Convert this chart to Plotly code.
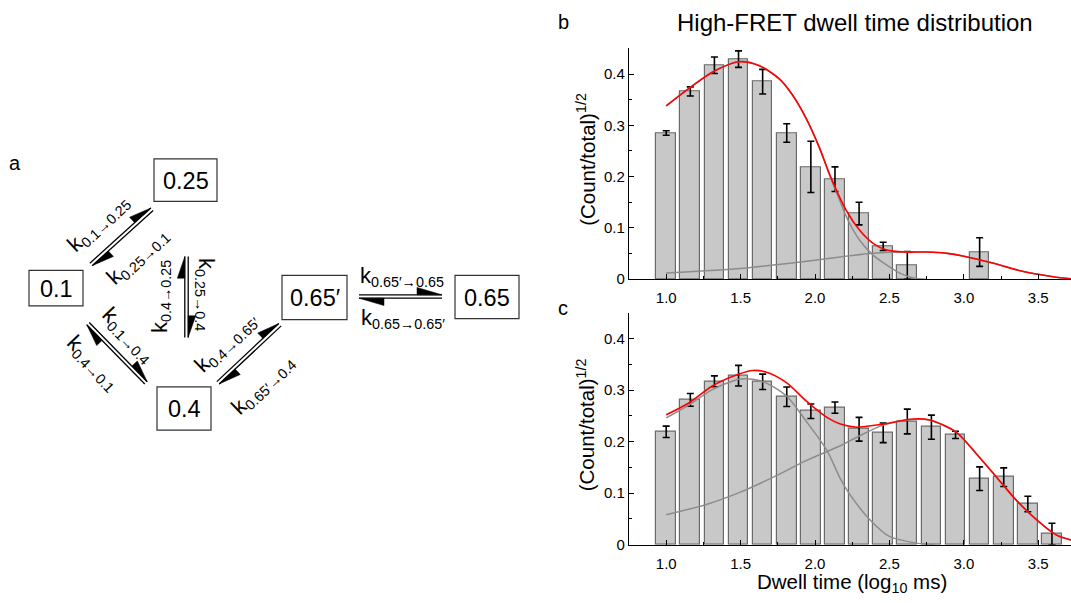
import math
import plotly.graph_objects as go

W, H = 1071, 603

# ---------------- data ----------------
bin_centers = [1.000, 1.162, 1.324, 1.486, 1.648, 1.810, 1.972, 2.134, 2.296,
               2.458, 2.620, 2.782, 2.944, 3.106, 3.268, 3.430, 3.592]

b_values = [0.285, 0.366, 0.417, 0.429, 0.385, 0.285, 0.219, 0.195, 0.128,
            0.064, 0.027, None, None, 0.053]
b_errors = [0.0045, 0.009, 0.016, 0.016, 0.024, 0.018, 0.050, 0.024, 0.022,
            0.008, 0.027, None, None, 0.028]

c_values = [0.219, 0.281, 0.317, 0.328, 0.316, 0.287, 0.259, 0.266, 0.224,
            0.217, 0.239, 0.228, 0.213, 0.128, 0.131, 0.079, 0.0205]
c_errors = [0.011, 0.0125, 0.0105, 0.020, 0.015, 0.019, 0.014, 0.011, 0.023,
            0.019, 0.024, 0.0235, 0.007, 0.023, 0.018, 0.015, 0.021]

# fitted curves
b_fit_x = [1.0, 1.162, 1.324, 1.49, 1.627, 1.762, 1.851, 1.941, 2.03, 2.10,
           2.21, 2.30, 2.39, 2.48, 2.61, 2.75, 2.9, 3.0, 3.2, 3.4, 3.6, 3.72]
b_fit_y = [0.338, 0.374, 0.406, 0.424, 0.416, 0.390, 0.358, 0.313, 0.256, 0.203,
           0.134, 0.0955, 0.070, 0.057, 0.053, 0.053, 0.050, 0.045, 0.031, 0.015,
           0.005, 0.001]
b_comp1_x = [1.0, 1.162, 1.324, 1.49, 1.627, 1.762, 1.851, 1.941, 2.03, 2.10,
             2.16, 2.22, 2.30, 2.39, 2.48, 2.57, 2.66, 2.75]
b_comp1_y = [0.338, 0.374, 0.406, 0.424, 0.416, 0.390, 0.358, 0.313, 0.256, 0.201,
             0.158, 0.116, 0.076, 0.047, 0.028, 0.012, 0.0025, 0.0]
b_comp2_x = [1.0, 1.5, 1.63, 2.0, 2.37, 2.6, 2.75, 2.9, 3.0, 3.2, 3.4, 3.6, 3.72]
b_comp2_y = [0.012, 0.021, 0.025, 0.037, 0.050, 0.053, 0.053, 0.050, 0.045, 0.031,
             0.015, 0.005, 0.001]

c_fit_x = [1.0, 1.157, 1.31, 1.49, 1.58, 1.67, 1.81, 1.94, 2.08, 2.17, 2.278,
           2.457, 2.658, 2.77, 2.95, 3.085, 3.22, 3.35, 3.49, 3.62, 3.72]
c_fit_y = [0.252, 0.276, 0.308, 0.331, 0.338, 0.335, 0.314, 0.279, 0.247, 0.234,
           0.228, 0.234, 0.244, 0.242, 0.218, 0.176, 0.131, 0.087, 0.048, 0.019,
           0.009]
c_comp1_x = [1.0, 1.157, 1.31, 1.49, 1.58, 1.67, 1.81, 1.94, 2.08, 2.17, 2.23,
             2.37, 2.50, 2.68, 2.8]
c_comp1_y = [0.246, 0.272, 0.301, 0.321, 0.321, 0.314, 0.288, 0.240, 0.183, 0.128,
             0.099, 0.048, 0.016, 0.003, 0.0]
c_comp2_x = [1.0, 1.27, 1.49, 1.72, 1.94, 2.17, 2.278, 2.457, 2.658, 2.77, 2.95,
             3.085, 3.22, 3.35, 3.49, 3.62, 3.72]
c_comp2_y = [0.058, 0.078, 0.101, 0.131, 0.163, 0.192, 0.208, 0.232, 0.243, 0.242,
             0.218, 0.176, 0.131, 0.087, 0.048, 0.019, 0.009]

x_ticks = [1.0, 1.5, 2.0, 2.5, 3.0, 3.5]
x_tick_text = ["1.0", "1.5", "2.0", "2.5", "3.0", "3.5"]
y_ticks = [0, 0.1, 0.2, 0.3, 0.4]
y_tick_text = ["0", "0.1", "0.2", "0.3", "0.4"]

# ---------------- style ----------------
FONT = "Arial, 'Liberation Sans', sans-serif"
BAR_FILL = "#c8c8c8"
BAR_LINE = "#6a6a6a"
GRAY = "#8c8c8c"
RED = "#ff0000"

fig = go.Figure()


def add_panel(vals, errs, fx, fy, c1x, c1y, c2x, c2y, xa, ya):
    xs = bin_centers[:len(vals)]
    fig.add_trace(go.Bar(
        x=xs, y=vals, width=0.132, xaxis=xa, yaxis=ya,
        marker=dict(color=BAR_FILL, line=dict(color=BAR_LINE, width=1.2)),
        error_y=dict(type="data", array=errs, visible=True, color="black",
                     thickness=1.6, width=3.5),
        showlegend=False, hoverinfo="skip"))
    for cx, cy in ((c1x, c1y), (c2x, c2y)):
        fig.add_trace(go.Scatter(x=cx, y=cy, mode="lines", xaxis=xa, yaxis=ya,
                                 line=dict(color=GRAY, width=1.5, shape="spline",
                                           smoothing=0.8),
                                 showlegend=False, hoverinfo="skip"))
    fig.add_trace(go.Scatter(x=fx, y=fy, mode="lines", xaxis=xa, yaxis=ya,
                             line=dict(color=RED, width=1.6, shape="spline",
                                       smoothing=0.8),
                             showlegend=False, hoverinfo="skip"))


add_panel(b_values, b_errors, b_fit_x, b_fit_y, b_comp1_x, b_comp1_y,
          b_comp2_x, b_comp2_y, "x", "y")
add_panel(c_values, c_errors, c_fit_x, c_fit_y, c_comp1_x, c_comp1_y,
          c_comp2_x, c_comp2_y, "x2", "y2")


def X(px):
    return px / W


def Y(py):
    return 1 - py / H


x_dom = [X(629), 1.0]
b_dom = [Y(283), Y(49)]
c_dom = [Y(552), Y(317)]

xaxis_style = dict(range=[0.75, 3.72], showline=True, linecolor="black",
                   linewidth=1.2, ticks="inside", ticklen=5, tickwidth=1.2,
                   tickcolor="black", tickvals=x_ticks, ticktext=x_tick_text,
                   ticklabelstandoff=5,
                   minor=dict(tickvals=[0.75, 1.25, 1.75, 2.25, 2.75, 3.25],
                              ticks="inside", ticklen=3, tickcolor="black"),
                   showgrid=False, zeroline=False, mirror=False,
                   tickfont=dict(family=FONT, size=15, color="black"))
yaxis_style = dict(range=[0, 0.45], showline=True, linecolor="black",
                   linewidth=1.2, ticks="inside", ticklen=5, tickwidth=1.2,
                   tickcolor="black", tickvals=y_ticks, ticktext=y_tick_text,
                   minor=dict(tickvals=[0.05, 0.15, 0.25, 0.35],
                              ticks="inside", ticklen=3, tickcolor="black"),
                   showgrid=False, zeroline=False,
                   tickfont=dict(family=FONT, size=15, color="black"))

fig.update_layout(
    width=W, height=H, margin=dict(l=0, r=0, t=0, b=0),
    paper_bgcolor="white", plot_bgcolor="white", bargap=0,
    xaxis=dict(domain=x_dom, anchor="y", **xaxis_style),
    yaxis=dict(domain=b_dom, anchor="x", **yaxis_style),
    xaxis2=dict(domain=x_dom, anchor="y2", **xaxis_style),
    yaxis2=dict(domain=c_dom, anchor="x2", **yaxis_style),
)

annotations = []
shapes = []


def text(px, py, s, size, angle=0, xanchor="center", yanchor="middle"):
    annotations.append(dict(x=X(px), y=Y(py), xref="paper", yref="paper",
                            text=s, showarrow=False, textangle=angle,
                            xanchor=xanchor, yanchor=yanchor,
                            font=dict(family=FONT, size=size, color="black")))


# titles / labels for b, c
text(855, 23, "High-FRET dwell time distribution", 24)
text(563, 22, "b", 20)
text(563, 312, "c", 20)
text(15, 165, "a", 20)
text(586, 162, "(Count/total)<sup>1/2</sup>", 20.5, angle=-90)
text(586, 431, "(Count/total)<sup>1/2</sup>", 20.5, angle=-90)
text(852, 591, "Dwell time (log<sub>10</sub> ms)", 20.5)

# ---------------- diagram (panel a) ----------------
boxes = [("0.25", 154, 161, 217, 204), ("0.1", 29, 274, 83, 310),
         ("0.4", 157, 392, 211, 436), ("0.65\u2032", 282, 279, 347, 324),
         ("0.65", 455, 279, 519, 323)]
for label, x0, y0, x1, y1 in boxes:
    shapes.append(dict(type="rect", xref="paper", yref="paper",
                       x0=X(x0), x1=X(x1), y0=Y(y0), y1=Y(y1),
                       line=dict(color="#333333", width=1.2)))
    text((x0 + x1) / 2, (y0 + y1) / 2 + 1, label, 23.5)


def harpoon_pair(p1, p2, gap=1.7, L=22, w=7.5):
    ux, uy = p2[0] - p1[0], p2[1] - p1[1]
    d = math.hypot(ux, uy)
    ux, uy = ux / d, uy / d
    nx, ny = -uy, ux
    for sgn, tip_at_end in ((-1, True), (1, False)):
        ox, oy = sgn * gap * nx, sgn * gap * ny
        a = (p1[0] + ox, p1[1] + oy)
        b = (p2[0] + ox, p2[1] + oy)
        shapes.append(dict(type="line", xref="paper", yref="paper",
                           x0=X(a[0]), y0=Y(a[1]), x1=X(b[0]), y1=Y(b[1]),
                           line=dict(color="black", width=1.3)))
        if tip_at_end:
            tip, bx, by = b, -ux, -uy
        else:
            tip, bx, by = a, ux, uy
        base = (tip[0] + bx * L, tip[1] + by * L)
        barb = (base[0] + sgn * w * nx, base[1] + sgn * w * ny)
        path = "M {:.5f},{:.5f} L {:.5f},{:.5f} L {:.5f},{:.5f} Z".format(
            X(tip[0]), Y(tip[1]), X(base[0]), Y(base[1]), X(barb[0]), Y(barb[1]))
        shapes.append(dict(type="path", xref="paper", yref="paper", path=path,
                           fillcolor="black", line=dict(color="black", width=0.5)))


harpoon_pair((91, 268), (152, 212))
harpoon_pair((186.5, 342), (186.5, 260))
harpoon_pair((88, 328), (146, 388))
harpoon_pair((218, 388), (280, 329))
harpoon_pair((359, 300.5), (442, 300.5), L=25, w=7.5)


def rate(px, py, sub, angle):
    text(px, py, "<span style='font-size:22px'>k</span><sub>" + sub + "</sub>",
         20.5, angle=angle)


A = "\u2192"
P = "\u2032"
rate(98, 227, "0.1" + A + "0.25", -43)
rate(137, 260, "0.25" + A + "0.1", -43)
rate(160, 301, "0.4" + A + "0.25", -90)
rate(206, 298, "0.25" + A + "0.4", 90)
rate(128, 339, "0.1" + A + "0.4", 46)
rate(93, 367, "0.4" + A + "0.1", 46)
rate(226, 347, "0.4" + A + "0.65" + P, -44)
rate(263, 390, "0.65" + P + A + "0.4", -44)
rate(402, 280, "0.65" + P + A + "0.65", 0)
rate(403, 323, "0.65" + A + "0.65" + P, 0)

fig.update_layout(annotations=annotations, shapes=shapes)
fig.write_html("out.html")
